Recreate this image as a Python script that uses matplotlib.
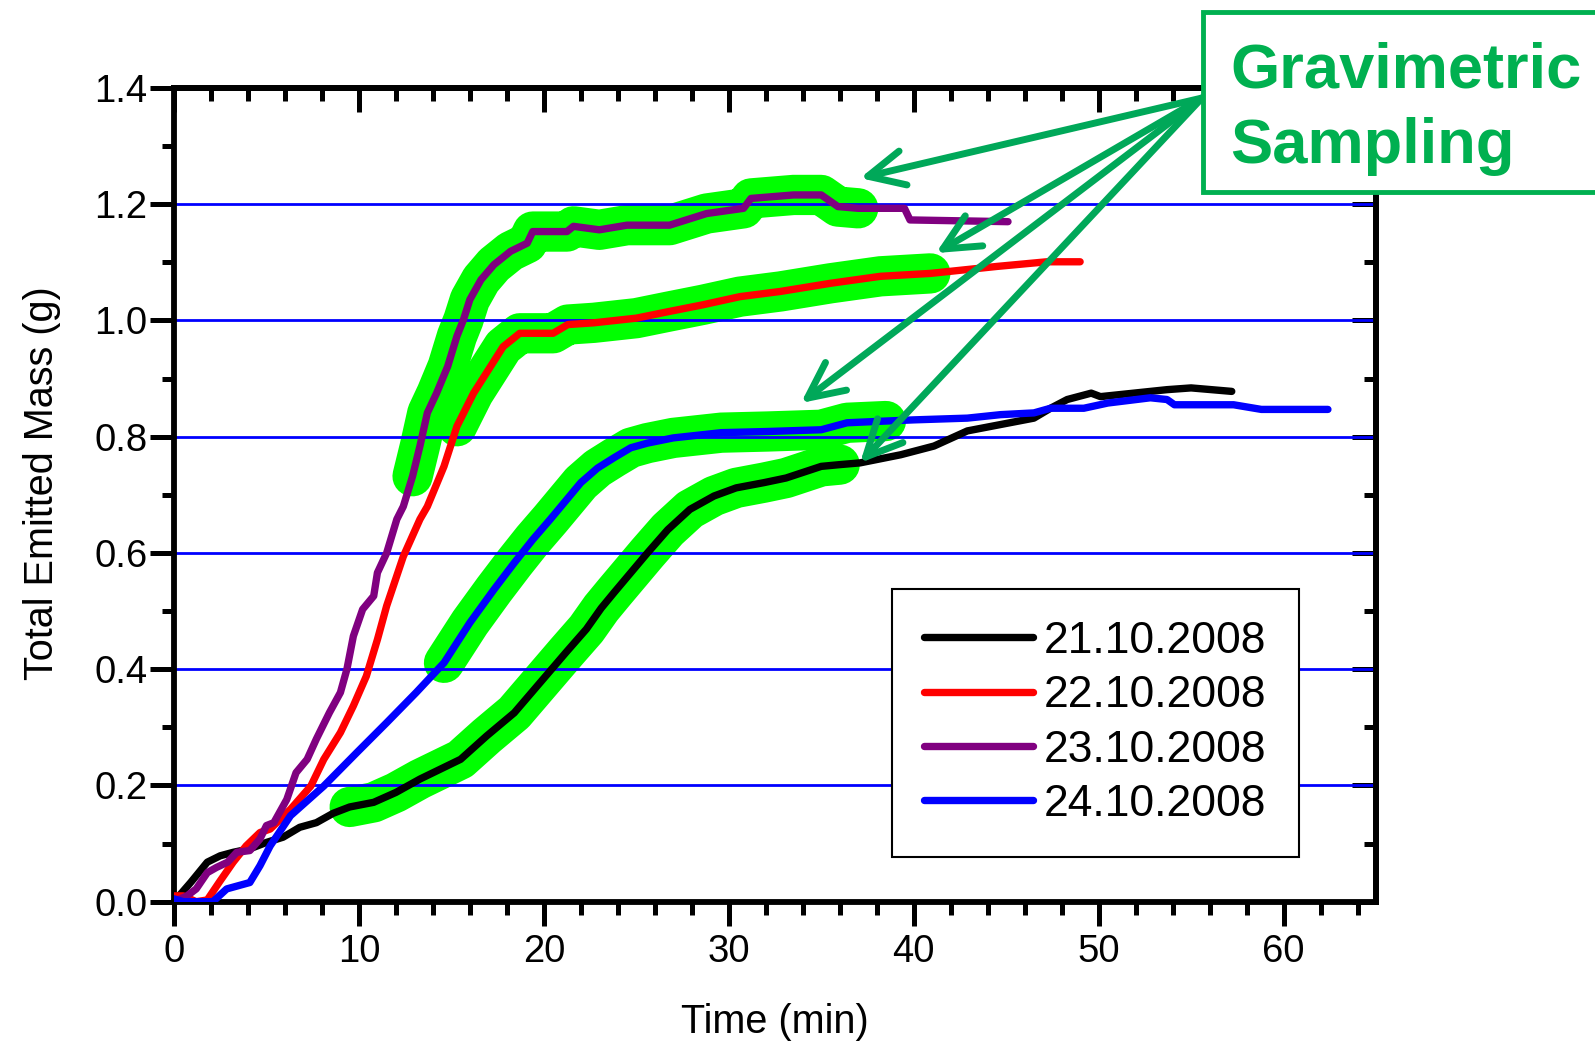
import numpy as np
import matplotlib.pyplot as plt
from matplotlib.ticker import MultipleLocator, FormatStrFormatter
from matplotlib.patches import Rectangle

plt.rcParams['font.family'] = ['Liberation Sans', 'DejaVu Sans']

# --- data ---
t_21 = [0, 0.9, 1.8, 2.5, 3.2, 4.1, 5.0, 5.9, 6.8, 7.7, 8.6, 9.5, 10.8, 12.0, 13.3, 14.4,
        15.5, 16.9, 18.4, 19.8, 21.2, 22.3, 23.1, 23.8, 24.7, 25.6, 26.7, 27.9, 29.2, 30.4,
        31.9, 33.1, 35.0, 36.0, 37.1, 39.3, 41.1, 42.9, 44.7, 46.5, 47.4, 48.3, 49.6, 50.1,
        51.9, 53.7, 55.0, 57.2]
m_21 = [0, 0.033, 0.068, 0.079, 0.085, 0.091, 0.102, 0.111, 0.128, 0.136, 0.152, 0.163,
        0.171, 0.188, 0.211, 0.228, 0.245, 0.285, 0.325, 0.377, 0.429, 0.469, 0.505, 0.532,
        0.566, 0.600, 0.640, 0.675, 0.698, 0.712, 0.721, 0.729, 0.749, 0.752, 0.755, 0.769,
        0.784, 0.810, 0.821, 0.832, 0.849, 0.864, 0.875, 0.869, 0.875, 0.881, 0.884, 0.878]

t_22 = [0, 0.5, 1.2, 1.8, 2.5, 3.2, 3.9, 4.65, 5.2, 6.3, 7.4, 8.1, 9.0, 9.7, 10.4, 11.0,
        11.5, 12.4, 13.3, 13.7, 14.6, 15.3, 16.2, 16.9, 17.8, 18.7, 20.5, 21.3, 22.7, 25.0,
        26.7, 28.6, 30.6, 32.8, 35.5, 38.2, 40.9, 42.7, 44.5, 47.2, 49.0]
m_22 = [0.01, 0.01, 0, 0.003, 0.036, 0.068, 0.096, 0.119, 0.125, 0.159, 0.199, 0.245,
        0.291, 0.337, 0.388, 0.451, 0.509, 0.594, 0.658, 0.680, 0.749, 0.818, 0.875, 0.910,
        0.955, 0.978, 0.978, 0.993, 0.996, 1.004, 1.015, 1.027, 1.041, 1.050, 1.064, 1.076,
        1.081, 1.087, 1.093, 1.101, 1.101]

t_23 = [0, 0.7, 1.2, 1.8, 2.3, 2.9, 3.4, 4.1, 4.65, 5.0, 5.4, 6.1, 6.6, 7.2, 7.7, 8.4,
        9.0, 9.35, 9.7, 10.2, 10.8, 11.0, 11.5, 12.05, 12.4, 12.9, 13.3, 13.7, 14.2, 14.8,
        15.3, 15.65, 16.0, 16.6, 17.3, 18.2, 19.1, 19.4, 21.25, 21.6, 23.0, 24.5, 26.8,
        28.8, 30.8, 31.2, 33.5, 35.0, 35.9, 37.0, 39.5, 39.8, 45.1]
m_23 = [0, 0.01, 0.022, 0.05, 0.059, 0.068, 0.085, 0.088, 0.108, 0.131, 0.136, 0.176,
        0.222, 0.245, 0.28, 0.325, 0.36, 0.40, 0.457, 0.503, 0.526, 0.566, 0.60, 0.658,
        0.68, 0.732, 0.784, 0.841, 0.875, 0.921, 0.973, 1.001, 1.036, 1.07, 1.096, 1.119,
        1.133, 1.153, 1.153, 1.162, 1.156, 1.164, 1.164, 1.184, 1.193, 1.21, 1.216, 1.216,
        1.196, 1.193, 1.193, 1.173, 1.170]

t_24 = [0, 0.5, 2.1, 2.85, 4.1, 4.65, 5.2, 6.3, 8.1, 9.9, 11.5, 13.1, 14.6, 16.0, 17.3,
        18.4, 19.4, 20.35, 22.0, 22.9, 23.8, 24.7, 25.6, 27.0, 29.6, 32.1, 35.0, 36.4,
        38.5, 40.0, 42.9, 44.7, 46.5, 47.4, 49.2, 50.5, 52.8, 53.7, 54.1, 57.3, 58.8, 62.4]
m_24 = [0.005, 0, 0, 0.022, 0.033, 0.062, 0.096, 0.148, 0.199, 0.257, 0.308, 0.36, 0.411,
        0.48, 0.537, 0.583, 0.623, 0.658, 0.721, 0.746, 0.764, 0.781, 0.789, 0.798, 0.807,
        0.809, 0.812, 0.824, 0.827, 0.829, 0.832, 0.838, 0.841, 0.849, 0.849, 0.858, 0.867,
        0.864, 0.855, 0.855, 0.847, 0.847]

labels = ['21.10.2008', '22.10.2008', '23.10.2008', '24.10.2008']
colors = ['black', '#FF0000', '#800080', '#0000FF']
times = [t_21, t_22, t_23, t_24]
masses = [m_21, m_22, m_23, m_24]

# gravimetric sampling windows (min) and arrow targets
sample_start = [9.2, 15.0, 12.6, 14.5]
sample_end = [36.0, 41.0, 37.0, 38.5]
arrow_x = [37.1, 41.2, 33.9, 37.1]
arrow_y = [0.755, 1.116, 0.858, 1.245]

fig = plt.figure(figsize=(15.95, 10.44), dpi=100)
ax = fig.add_axes([0.10909, 0.1363, 0.75361, 0.77941])

for t, m, c, lab, s0, s1 in zip(times, masses, colors, labels, sample_start, sample_end):
    t = np.array(t)
    m = np.array(m)
    sel = (t >= s0) & (t <= s1)
    ax.plot(t[sel], m[sel], color='#00FF00', lw=29, solid_capstyle='round',
            solid_joinstyle='round', zorder=1)
    ax.plot(t, m, color=c, lw=5.3, label=lab, solid_capstyle='round',
            solid_joinstyle='round', zorder=3)

ax.set_xlim(0, 65)
ax.set_ylim(0, 1.4)
ax.xaxis.set_major_locator(MultipleLocator(10))
ax.xaxis.set_minor_locator(MultipleLocator(2))
ax.yaxis.set_major_locator(MultipleLocator(0.2))
ax.yaxis.set_minor_locator(MultipleLocator(0.1))
ax.yaxis.set_major_formatter(FormatStrFormatter('%.1f'))
ax.grid(True, axis='y', which='major', color='#0000FF', lw=2)

for sp in ax.spines.values():
    sp.set_linewidth(4.2)
ax.tick_params(which='both', direction='out', width=3.6, labelsize=27.5)
ax.tick_params(which='major', length=17)
ax.tick_params(which='minor', length=9)
ax.tick_params(axis='x', pad=6)
ax.tick_params(axis='y', pad=2)

# inward ticks on top and right
top = ax.secondary_xaxis('top')
top.xaxis.set_major_locator(MultipleLocator(10))
top.xaxis.set_minor_locator(MultipleLocator(2))
top.tick_params(which='both', direction='in', width=3.6, labeltop=False)
top.tick_params(which='major', length=17)
top.tick_params(which='minor', length=9)
top.spines['top'].set_linewidth(4.2)
right = ax.secondary_yaxis('right')
right.yaxis.set_major_locator(MultipleLocator(0.2))
right.yaxis.set_minor_locator(MultipleLocator(0.1))
right.tick_params(which='both', direction='in', width=3.6, labelright=False)
right.tick_params(which='major', length=17)
right.tick_params(which='minor', length=9)
right.spines['right'].set_linewidth(4.2)

ax.set_xlabel('Time (min)', fontsize=28.5, va='center')
ax.xaxis.set_label_coords(0.5, -0.148)
ax.set_ylabel('Total Emitted Mass (g)', fontsize=28.5, va='center')
ax.yaxis.set_label_coords(-0.11, 0.515)

leg = ax.legend(loc='upper left', bbox_to_anchor=(892 / 1595, 1 - 589 / 1044),
                bbox_transform=fig.transFigure, borderaxespad=0, fontsize=32,
                handlelength=2.45, handletextpad=0.25, labelspacing=0.3,
                borderpad=0.72, fancybox=False, framealpha=1, edgecolor='black')
leg.get_frame().set_linewidth(1.5)
leg.set_zorder(5)

# annotation box
green = '#00B050'
fig.patches.append(Rectangle((1203, 1044 - 192), 500, 180, transform=None,
                             fill=True, facecolor='white', edgecolor=green, lw=3.5,
                             zorder=6))
fig.text(1230 / 1595, 1 - 88 / 1044, 'Gravimetric', color=green, fontsize=45.5,
         fontweight='bold', va='baseline', ha='left', zorder=7)
fig.text(1230 / 1595, 1 - 163 / 1044, 'Sampling', color=green, fontsize=45.5,
         fontweight='bold', va='baseline', ha='left', zorder=7)

for xa, ya in zip(arrow_x, arrow_y):
    ax.annotate('', xy=(xa, ya), xycoords='data', xytext=(1202, 1044 - 98),
                textcoords='figure pixels', annotation_clip=False,
                arrowprops=dict(arrowstyle='->,head_length=2.6,head_width=1.25',
                                mutation_scale=10, color='#00A859', lw=5,
                                shrinkA=0, shrinkB=0))

fig.savefig('out.png', dpi=100)
